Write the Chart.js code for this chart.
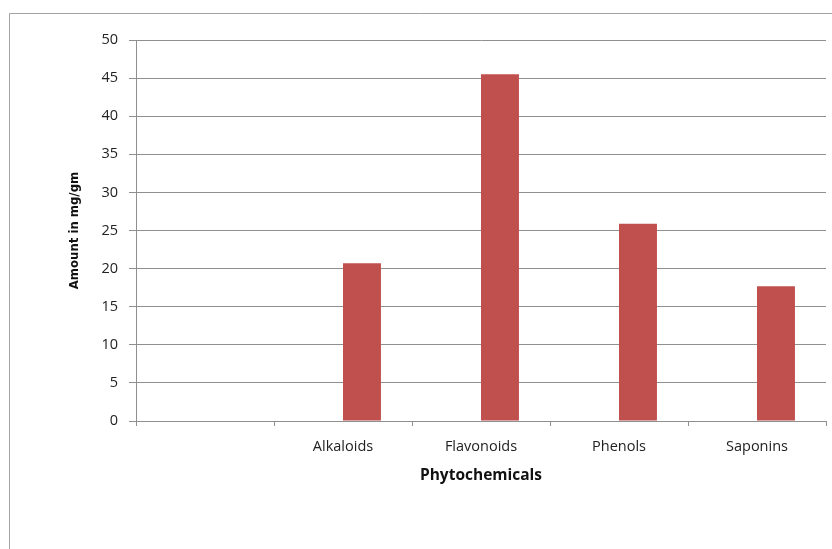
<!DOCTYPE html>
<html>
<head>
<meta charset="utf-8">
<script src="https://cdn.jsdelivr.net/npm/chart.js@4/dist/chart.umd.min.js"></script>
<style>
  html, body { margin: 0; padding: 0; background: #fff; }
  #wrap { width: 832px; height: 549px; }
</style>
</head>
<body>
<div id="wrap"><canvas id="chart" width="832" height="549"></canvas></div>
<script>
// chart data
const categories = ['', 'Alkaloids', 'Flavonoids', 'Phenols', 'Saponins'];
const emptySeries = [null, null, null, null, null];
const amounts = [null, 20.7, 45.5, 25.9, 17.7];

const gridColor = '#8f8f8f';
const labelFont = { family: "'Open Sans', 'Liberation Sans', sans-serif", size: 14.5 };

// outer frame like the spreadsheet chart border (left + top edges)
const framePlugin = {
  id: 'frame',
  beforeDraw(chart) {
    const ctx = chart.ctx;
    ctx.save();
    ctx.strokeStyle = '#a3a3a3';
    ctx.lineWidth = 1;
    ctx.beginPath();
    ctx.moveTo(9.5, 549);
    ctx.lineTo(9.5, 13.5);
    ctx.lineTo(832, 13.5);
    ctx.stroke();
    ctx.restore();
  }
};

new Chart(document.getElementById('chart'), {
  type: 'bar',
  data: {
    labels: categories,
    datasets: [
      { label: 'empty', data: emptySeries, backgroundColor: '#4f81bd' },
      { label: 'Amount', data: amounts, backgroundColor: '#c0504d' }
    ]
  },
  options: {
    responsive: false,
    animation: false,
    devicePixelRatio: 1,
    layout: { padding: { left: 0, right: 6, top: 40, bottom: 0 } },
    datasets: { bar: { categoryPercentage: 0.55, barPercentage: 1 } },
    plugins: { legend: { display: false }, tooltip: { enabled: false } },
    scales: {
      x: {
        afterFit(scale) { scale.height = 128; },
        grid: { offset: true, drawOnChartArea: false, tickLength: 5, color: gridColor },
        border: { color: gridColor },
        ticks: { color: '#222', font: labelFont, padding: 12 },
        title: {
          display: true,
          text: 'Phytochemicals',
          color: '#111',
          font: { family: "'Open Sans', 'Liberation Sans', sans-serif", size: 15.5, weight: 'bold' },
          padding: { top: 0, bottom: 64 }
        }
      },
      y: {
        min: 0,
        max: 50,
        afterFit(scale) { scale.width = 136; },
        grid: { color: gridColor, tickLength: 7 },
        border: { color: gridColor },
        ticks: { stepSize: 5, color: '#222', font: labelFont, padding: 11 },
        title: {
          display: true,
          text: 'Amount in mg/gm',
          color: '#111',
          font: { family: "'Liberation Sans Narrow', 'DejaVu Sans Condensed', sans-serif", size: 13, weight: 'bold' },
          padding: { top: 67, bottom: 0 }
        }
      }
    }
  },
  plugins: [framePlugin]
});
</script>
</body>
</html>
